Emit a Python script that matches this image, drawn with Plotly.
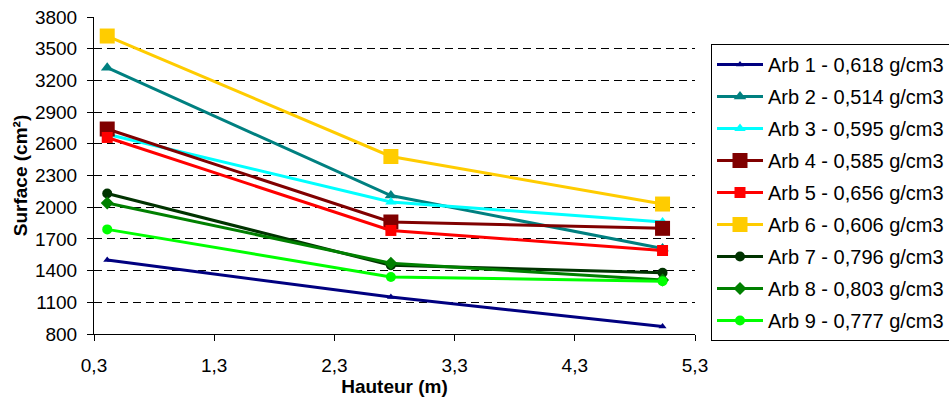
import plotly.graph_objects as go

hauteur = [0.41, 2.77, 5.03]
names = ["Arb 1 - 0,618 g/cm3", "Arb 2 - 0,514 g/cm3", "Arb 3 - 0,595 g/cm3",
         "Arb 4 - 0,585 g/cm3", "Arb 5 - 0,656 g/cm3", "Arb 6 - 0,606 g/cm3",
         "Arb 7 - 0,796 g/cm3", "Arb 8 - 0,803 g/cm3", "Arb 9 - 0,777 g/cm3"]
arb1 = [1500, 1150, 870]
arb2 = [3320, 2110, 1610]
arb3 = [2690, 2050, 1860]
arb4 = [2740, 1860, 1800]
arb5 = [2660, 1780, 1590]
arb6 = [3620, 2480, 2030]
arb7 = [2130, 1450, 1380]
arb8 = [2040, 1470, 1310]
arb9 = [1790, 1340, 1300]
series = [arb1, arb2, arb3, arb4, arb5, arb6, arb7, arb8, arb9]

colors = ["#000080", "#008080", "#00FFFF", "#800000", "#FF0000", "#FFCC00",
          "#003300", "#008000", "#00FF00"]
symbols = ["triangle-up", "triangle-up", "triangle-up", "square", "square", "square",
           "circle", "diamond", "circle"]
sizes = [7, 11, 10, 15, 11, 15, 10, 10, 10]

fig = go.Figure()
for i, (nm, ys) in enumerate(zip(names, series)):
    fig.add_trace(go.Scatter(
        x=hauteur, y=ys, name=nm, mode="lines+markers",
        legendgroup=f"g{i}",
        line=dict(color=colors[i], width=3),
        marker=dict(symbol=symbols[i], size=sizes[i], color=colors[i]),
    ))

font = "Liberation Sans, Arial, sans-serif"
fig.update_layout(
    width=949, height=399,
    margin=dict(l=94, r=254, t=17, b=65, autoexpand=False),
    paper_bgcolor="white", plot_bgcolor="white",
    separators=", ",
    font=dict(family=font, size=19, color="black"),
    showlegend=True,
    legend=dict(
        xref="container", yref="container",
        x=711 / 949, y=1 - 44 / 399, xanchor="left", yanchor="top",
        bgcolor="white", bordercolor="black", borderwidth=1,
        font=dict(family=font, size=20, color="black"),
        traceorder="grouped", tracegroupgap=3,
        itemwidth=46, maxheight=390,
    ),
    xaxis=dict(
        range=[0.3, 5.3], dtick=1, tick0=0.3, tickformat=".1f",
        showgrid=False, zeroline=False,
        showline=True, linecolor="black", linewidth=1,
        ticks="outside", ticklen=6, tickcolor="black",
        tickfont=dict(size=19), ticklabelstandoff=8,
        title=dict(text="<b>Hauteur (m)</b>", font=dict(size=19), standoff=2),
    ),
    yaxis=dict(
        range=[800, 3800], dtick=300, tick0=800,
        showgrid=True, gridcolor="black", gridwidth=1, griddash="8px,5px",
        zeroline=False,
        showline=True, linecolor="black", linewidth=1,
        ticks="outside", ticklen=6, tickcolor="black",
        tickfont=dict(size=19), ticklabelstandoff=6,
        title=dict(text="<b>Surface (cm²)</b>", font=dict(size=19), standoff=2),
    ),
)

fig.write_html("out.html")
